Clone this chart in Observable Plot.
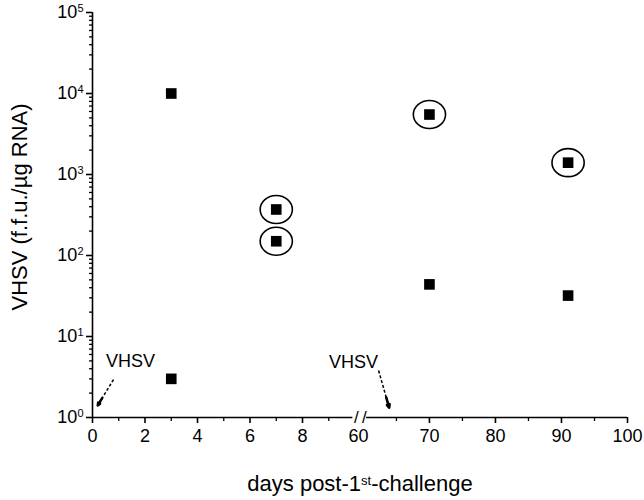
<!DOCTYPE html>
<html>
<head>
<meta charset="utf-8">
<script src="https://cdn.jsdelivr.net/npm/d3@7"></script>
<script src="https://cdn.jsdelivr.net/npm/@observablehq/plot@0.6"></script>
<style>
  html, body { margin: 0; padding: 0; background: #fff; }
  #chart { width: 644px; height: 500px; }
</style>
</head>
<body>
<div id="chart"></div>
<script>
// ---- data ----
const days = [3, 3, 7, 7, 70, 70, 91, 91];
const values = [10000, 3, 370, 150, 5500, 44, 1400, 32];
const circled = [false, false, true, true, true, false, true, false];

const majorDays = [0, 2, 4, 6, 8, 70, 80, 90, 100];
const minorDays = [1, 3, 5, 7, 9, 65, 75, 85, 95];
const yMajor = [1, 10, 100, 1000, 10000, 100000];
const yMinor = [];
for (const dec of [1, 10, 100, 1000, 10000]) for (let m = 2; m <= 9; m++) yMinor.push(dec * m);

// annotations: challenge arrows (day, value)
const annLabels = ["VHSV", "VHSV"];
const annLabelDay = [1.45, 9.94];      // label centre (display units, left segment)
const annLabelVal = [5.0, 4.8];
const arrowFromDay = [0.8, 62.3];
const arrowFromVal = [2.94, 3.8];
const arrowToDay = [0.2, 63.9];
const arrowToVal = [1.41, 1.32];

// ---- broken x axis: 0–10 then 60–100 ----
const U60 = 10.32, K = 0.2515;
const toU = d => d <= 10 ? d : U60 + (d - 60) * K;
const fromU = u => u <= 10.1 ? Math.round(u) : Math.round(60 + (u - U60) / K);
const uMax = toU(100);

const pts = days.map((d, i) => ({u: toU(d), v: values[i], c: circled[i]}));
const ann = annLabels.map((t, i) => ({
  t, lu: annLabelDay[i], lv: annLabelVal[i],
  x1: toU(arrowFromDay[i]), y1: arrowFromVal[i],
  x2: toU(arrowToDay[i]), y2: arrowToVal[i]
}));
// short solid segment near the tip for the arrow head
const heads = ann.map(a => {
  const f = 0.72;
  const ly1 = Math.log10(a.y1), ly2 = Math.log10(a.y2);
  return {x1: a.x1 + (a.x2 - a.x1) * f, y1: Math.pow(10, ly1 + (ly2 - ly1) * f), x2: a.x2, y2: a.y2};
});

const ellipse = {
  draw(ctx, size) {
    const r = Math.sqrt(size / Math.PI);
    const rx = r * 1.15, ry = r, k = 0.5523;
    ctx.moveTo(rx, 0);
    ctx.bezierCurveTo(rx, k * ry, k * rx, ry, 0, ry);
    ctx.bezierCurveTo(-k * rx, ry, -rx, k * ry, -rx, 0);
    ctx.bezierCurveTo(-rx, -k * ry, -k * rx, -ry, 0, -ry);
    ctx.bezierCurveTo(k * rx, -ry, rx, -k * ry, rx, 0);
    ctx.closePath();
  }
};

const axisSegs = [{x1: 0, x2: 9.92}, {x1: 10.44, x2: uMax}];
const breakMarks = [10.05, 10.36];

const chart = Plot.plot({
  width: 644,
  height: 500,
  marginLeft: 92,
  marginRight: 17,
  marginTop: 12,
  marginBottom: 83,
  style: {fontFamily: "'Liberation Sans', Arial, sans-serif", background: "#fff", color: "#000"},
  x: {type: "linear", domain: [0, uMax], axis: null},
  y: {type: "log", domain: [1, 100000], axis: null},
  marks: [
    // axis lines
    Plot.ruleX([0], {y1: 1, y2: 100000, stroke: "black", strokeWidth: 1.6}),
    Plot.ruleY(axisSegs, {y: 1, x1: "x1", x2: "x2", stroke: "black", strokeWidth: 1.6}),
    Plot.text(breakMarks, {x: d => d, y: 1, text: () => "/", fontSize: 17, fill: "black"}),
    // y axis ticks
    Plot.axisY(yMajor, {anchor: "left", tickSize: 6, tickPadding: 3, fontSize: 18, strokeWidth: 1.6,
      tickFormat: d => "10^" + Math.round(Math.log10(d)), label: null}),
    Plot.axisY(yMinor, {anchor: "left", tickSize: 3, tickFormat: () => "", strokeWidth: 1.3, label: null}),
    // x axis ticks
    Plot.axisX(majorDays.map(toU), {anchor: "bottom", tickSize: 6, tickPadding: 6, fontSize: 18, strokeWidth: 1.6,
      tickFormat: u => String(fromU(u)), label: null}),
    Plot.axisX(minorDays.map(toU), {anchor: "bottom", tickSize: 4, tickFormat: () => "", strokeWidth: 1.3, label: null}),
    Plot.axisX([toU(60)], {anchor: "bottom", tickSize: 0, tickPadding: 12, fontSize: 18, dx: -5,
      tickFormat: () => "60", label: null}),
    // annotations
    Plot.link(ann, {x1: "x1", y1: "y1", x2: "x2", y2: "y2", stroke: "black", strokeWidth: 1.5, strokeDasharray: "3,2"}),
    Plot.arrow(heads, {x1: "x1", y1: "y1", x2: "x2", y2: "y2", stroke: "black", strokeWidth: 2.6, headLength: 11, headAngle: 45}),
    Plot.text(ann, {x: "lu", y: "lv", text: "t", fontSize: 18, fill: "black"}),
    // data
    Plot.dot(pts.filter(d => d.c), {x: "u", y: "v", symbol: ellipse, r: 14, stroke: "black", strokeWidth: 1.6, fill: "none"}),
    Plot.dot(pts, {x: "u", y: "v", symbol: "square", r: 6, fill: "black", stroke: "none"})
  ]
});

document.getElementById("chart").appendChild(chart);

// superscript exponents on y tick labels
const svg = d3.select(chart);
svg.selectAll("text").each(function() {
  const el = d3.select(this);
  const t = this.textContent;
  if (/^10\^\d$/.test(t)) {
    const exp = t.split("^")[1];
    el.text(null);
    el.append("tspan").text("10");
    el.append("tspan").attr("dy", "-0.55em").attr("font-size", 11).text(exp);
  }
});

// axis titles
svg.append("text")
  .attr("transform", "translate(21,207) rotate(-90)")
  .attr("text-anchor", "middle")
  .attr("dominant-baseline", "middle")
  .attr("font-size", 22)
  .attr("fill", "black")
  .text("VHSV (f.f.u./\u00b5g RNA)");

const xt = svg.append("text")
  .attr("x", 360)
  .attr("y", 491)
  .attr("text-anchor", "middle")
  .attr("font-size", 22)
  .attr("fill", "black");
xt.append("tspan").text("days post-1");
xt.append("tspan").attr("dy", "-0.5em").attr("font-size", 13).text("st");
xt.append("tspan").attr("dy", "0.3em").text("-challenge");
</script>
</body>
</html>
